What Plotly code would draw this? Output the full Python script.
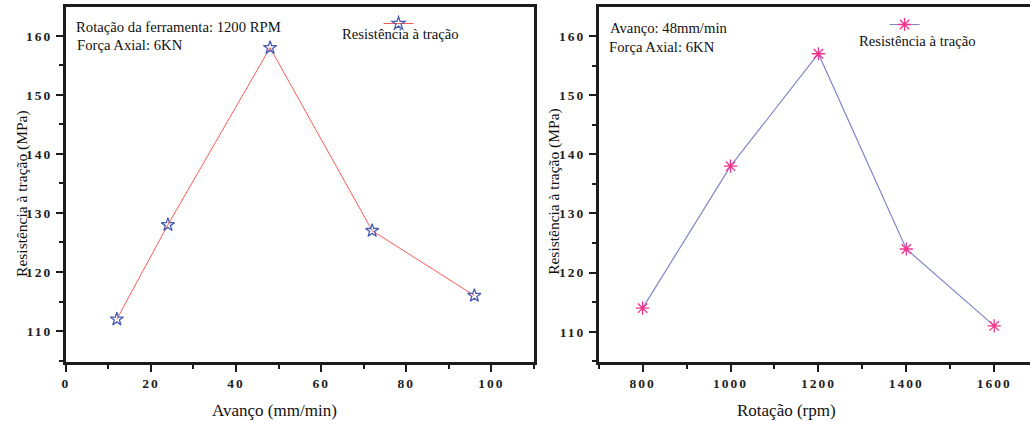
import plotly.graph_objects as go

# ---- data ----
avanco = [12, 24, 48, 72, 96]
resist_avanco = [112, 128, 158, 127, 116]
rotacao = [800, 1000, 1200, 1400, 1600]
resist_rotacao = [114, 138, 157, 124, 111]

x1_ticks = [0, 20, 40, 60, 80, 100]
x2_ticks = [800, 1000, 1200, 1400, 1600]
y_ticks = [110, 120, 130, 140, 150, 160]

serie_nome = "Resistência à tração"
y_titulo = "Resistência à tração (MPa)"
x1_titulo = "Avanço (mm/min)"
x2_titulo = "Rotação (rpm)"
notas_esq = ["Rotação da ferramenta: 1200 RPM", "Força Axial: 6KN"]
notas_dir = ["Avanço: 48mm/min", "Força Axial: 6KN"]

W, H = 1030, 421


def px(x):
    return x / W


def py(y):
    return 1 - y / H


def lab(v):
    return '<span style="letter-spacing:2px">%s</span>' % v


AX = "#1c1c1c"
TICKFONT = dict(family="Liberation Serif", size=13.5, color="#222", weight="bold")
SERIF = "Liberation Serif"

fig = go.Figure()

fig.add_trace(go.Scatter(
    x=avanco, y=resist_avanco, mode="lines+markers", name=" ",
    line=dict(color="#ff5a5a", width=1),
    marker=dict(symbol="star-open", size=10, color="#4a5cb0",
                line=dict(color="#4a5cb0", width=1.3)),
    xaxis="x", yaxis="y", legend="legend", showlegend=True,
))

fig.add_trace(go.Scatter(
    x=rotacao, y=resist_rotacao, mode="lines+markers", name=" ",
    line=dict(color="#7f86c6", width=1.2),
    marker=dict(symbol="asterisk-open", size=11, color="#f0338c",
                line=dict(color="#f0338c", width=1.3)),
    xaxis="x2", yaxis="y2", legend="legend2", showlegend=True,
))

common = dict(showline=True, linewidth=2.5, linecolor=AX, ticks="outside",
              ticklen=7, tickwidth=2, tickcolor=AX, showgrid=False,
              zeroline=False, tickfont=TICKFONT)

fig.update_layout(
    width=W, height=H, showlegend=True,
    margin=dict(l=0, r=0, t=0, b=0),
    paper_bgcolor="white", plot_bgcolor="white",
    xaxis=dict(domain=[px(62), px(532)], range=[0, 110], anchor="y",
               tickvals=x1_ticks, ticktext=[lab(v) for v in x1_ticks],
               mirror=True,
               minor=dict(ticks="outside", ticklen=4, tickwidth=2,
                          tickcolor=AX, dtick=10, tick0=0),
               **common),
    yaxis=dict(domain=[py(362), py(7)], range=[104.75, 164.9], anchor="x",
               tickvals=y_ticks, ticktext=[lab(v) for v in y_ticks],
               mirror=True, ticklabelstandoff=1,
               minor=dict(ticks="outside", ticklen=4, tickwidth=2,
                          tickcolor=AX, dtick=5, tick0=0),
               **common),
    xaxis2=dict(domain=[px(597), 1], range=[700, 1681.5], anchor="y2",
                tickvals=x2_ticks, ticktext=[lab(v) for v in x2_ticks],
                mirror=True,
                minor=dict(ticks="outside", ticklen=4, tickwidth=2,
                           tickcolor=AX, dtick=100, tick0=0),
                **common),
    yaxis2=dict(domain=[py(362), py(7)], range=[104.9, 164.9], anchor="x2",
                tickvals=y_ticks, ticktext=[lab(v) for v in y_ticks],
                mirror=False, ticklabelstandoff=1,
                minor=dict(ticks="outside", ticklen=4, tickwidth=2,
                           tickcolor=AX, dtick=5, tick0=0),
                **common),
    legend=dict(x=px(376), y=py(9), xanchor="left", yanchor="top",
                bgcolor="rgba(0,0,0,0)", borderwidth=0,
                font=dict(size=10, family=SERIF)),
    legend2=dict(x=px(884), y=py(10), xanchor="left", yanchor="top",
                 bgcolor="rgba(0,0,0,0)", borderwidth=0,
                 font=dict(size=10, family=SERIF)),
)

ann_font = dict(family=SERIF, size=14.7, color="#111")
anns = []
anns.append(dict(text=notas_esq[0], x=px(70), y=py(27), xanchor="left", yanchor="middle"))
anns.append(dict(text=notas_esq[1], x=px(71), y=py(45), xanchor="left", yanchor="middle"))
anns.append(dict(text=notas_dir[0], x=px(606), y=py(28), xanchor="left", yanchor="middle"))
anns.append(dict(text=notas_dir[1], x=px(605), y=py(47), xanchor="left", yanchor="middle"))
anns.append(dict(text=serie_nome, x=px(398), y=py(34), xanchor="center", yanchor="middle"))
anns.append(dict(text=serie_nome, x=px(917), y=py(41), xanchor="center", yanchor="middle"))
for a in anns:
    a.update(xref="paper", yref="paper", showarrow=False, font=ann_font)

anns.append(dict(text=x1_titulo, x=px(272), y=py(410), xref="paper", yref="paper",
                 showarrow=False, xanchor="center", yanchor="middle",
                 font=dict(family=SERIF, size=17, color="#111")))
anns.append(dict(text=x2_titulo, x=px(786), y=py(410), xref="paper", yref="paper",
                 showarrow=False, xanchor="center", yanchor="middle",
                 font=dict(family=SERIF, size=17, color="#111")))
anns.append(dict(text=y_titulo, x=px(18), y=py(193), xref="paper", yref="paper",
                 showarrow=False, xanchor="center", yanchor="middle", textangle=-90,
                 font=dict(family=SERIF, size=15.5, color="#111")))
anns.append(dict(text=y_titulo, x=px(552), y=py(191), xref="paper", yref="paper",
                 showarrow=False, xanchor="center", yanchor="middle", textangle=-90,
                 font=dict(family=SERIF, size=15.5, color="#111")))

fig.update_layout(annotations=anns)

fig.write_html("out.html")
